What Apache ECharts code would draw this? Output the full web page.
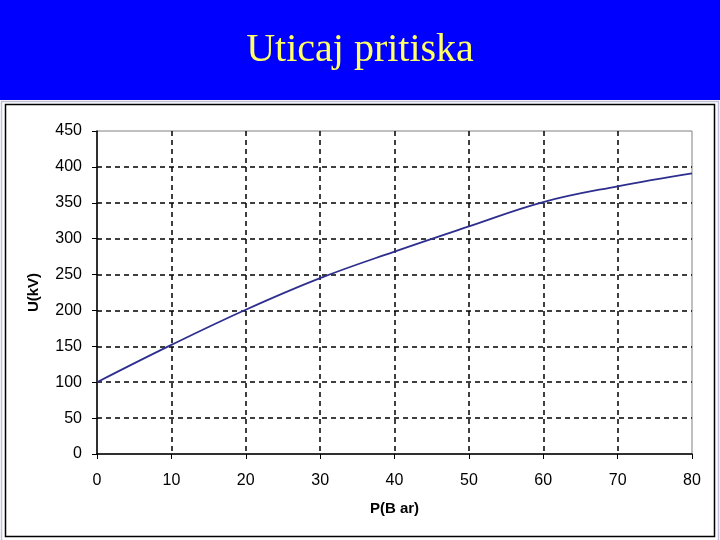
<!DOCTYPE html>
<html>
<head>
<meta charset="utf-8">
<script src="https://cdn.jsdelivr.net/npm/echarts@6/dist/echarts.min.js"></script>
<style>
  html, body { margin: 0; padding: 0; background: #fff; }
  #chart { width: 720px; height: 540px; }
</style>
</head>
<body>
<div id="chart"></div>
<script>
// pressure in bar (x) and breakdown voltage in kV (y)
const pressure = [0, 10, 20, 30, 40, 50, 60, 70, 80]
const voltage = [100, 152, 201, 245, 282, 317, 351, 373, 391]

const titleText = 'Uticaj pritiska'
const xName = 'P(B ar)'
const yName = 'U(kV)'

const chart = echarts.init(document.getElementById('chart'))

const labelFont = {
  fontFamily: 'Liberation Sans, Arial, sans-serif',
  fontSize: 16,
  color: '#000'
}

const option = {
  animation: false,
  backgroundColor: '#fff',
  title: {
    text: titleText,
    left: 'center',
    top: 25,
    textStyle: {
      fontFamily: 'Liberation Serif, Times New Roman, serif',
      fontWeight: 'normal',
      fontSize: 40,
      color: '#ffff66'
    }
  },
  graphic: [
    {
      type: 'rect',
      z: -10,
      shape: { x: 0, y: 0, width: 720, height: 100 },
      style: { fill: '#0000ff' }
    },
    {
      type: 'rect',
      z: -10,
      shape: { x: 1.5, y: 101.5, width: 717, height: 440 },
      style: { fill: 'none', stroke: '#c0c0dc', lineWidth: 1.5 }
    },
    {
      type: 'rect',
      z: -10,
      shape: { x: 5.5, y: 104.5, width: 709, height: 432 },
      style: { fill: '#fff', stroke: '#000', lineWidth: 1.5 }
    }
  ],
  grid: {
    left: 97,
    top: 131,
    right: 28,
    bottom: 86,
    show: true,
    borderColor: '#808080',
    borderWidth: 1,
    backgroundColor: '#fff'
  },
  xAxis: {
    type: 'value',
    min: 0,
    max: 80,
    interval: 10,
    name: xName,
    nameLocation: 'middle',
    nameGap: 47,
    nameTextStyle: {
      fontFamily: 'Liberation Sans, Arial, sans-serif',
      fontWeight: 'bold',
      fontSize: 15,
      color: '#000'
    },
    axisLine: { show: true, onZero: false, lineStyle: { color: '#000', width: 1.5 } },
    axisTick: { show: true, length: 5, lineStyle: { color: '#000' } },
    axisLabel: { ...labelFont, margin: 19 },
    splitLine: {
      show: true,
      showMinLine: false,
      showMaxLine: false,
      lineStyle: { color: '#000', type: [5, 4], width: 1.5 }
    }
  },
  yAxis: {
    type: 'value',
    min: 0,
    max: 450,
    interval: 50,
    name: yName,
    nameLocation: 'middle',
    nameGap: 56,
    nameTextStyle: {
      fontFamily: 'Liberation Sans, Arial, sans-serif',
      fontWeight: 'bold',
      fontSize: 15,
      color: '#000'
    },
    axisLine: { show: true, onZero: false, lineStyle: { color: '#000', width: 1.5 } },
    axisTick: { show: true, length: 5, lineStyle: { color: '#000' } },
    axisLabel: { ...labelFont, margin: 15 },
    splitLine: {
      show: true,
      showMinLine: false,
      showMaxLine: false,
      lineStyle: { color: '#000', type: [5, 4], width: 1.5 }
    }
  },
  series: [
    {
      type: 'line',
      data: pressure.map((p, i) => [p, voltage[i]]),
      smooth: 0.4,
      showSymbol: false,
      lineStyle: { color: '#2e2e8f', width: 1.8 }
    }
  ]
}

chart.setOption(option)
</script>
</body>
</html>
